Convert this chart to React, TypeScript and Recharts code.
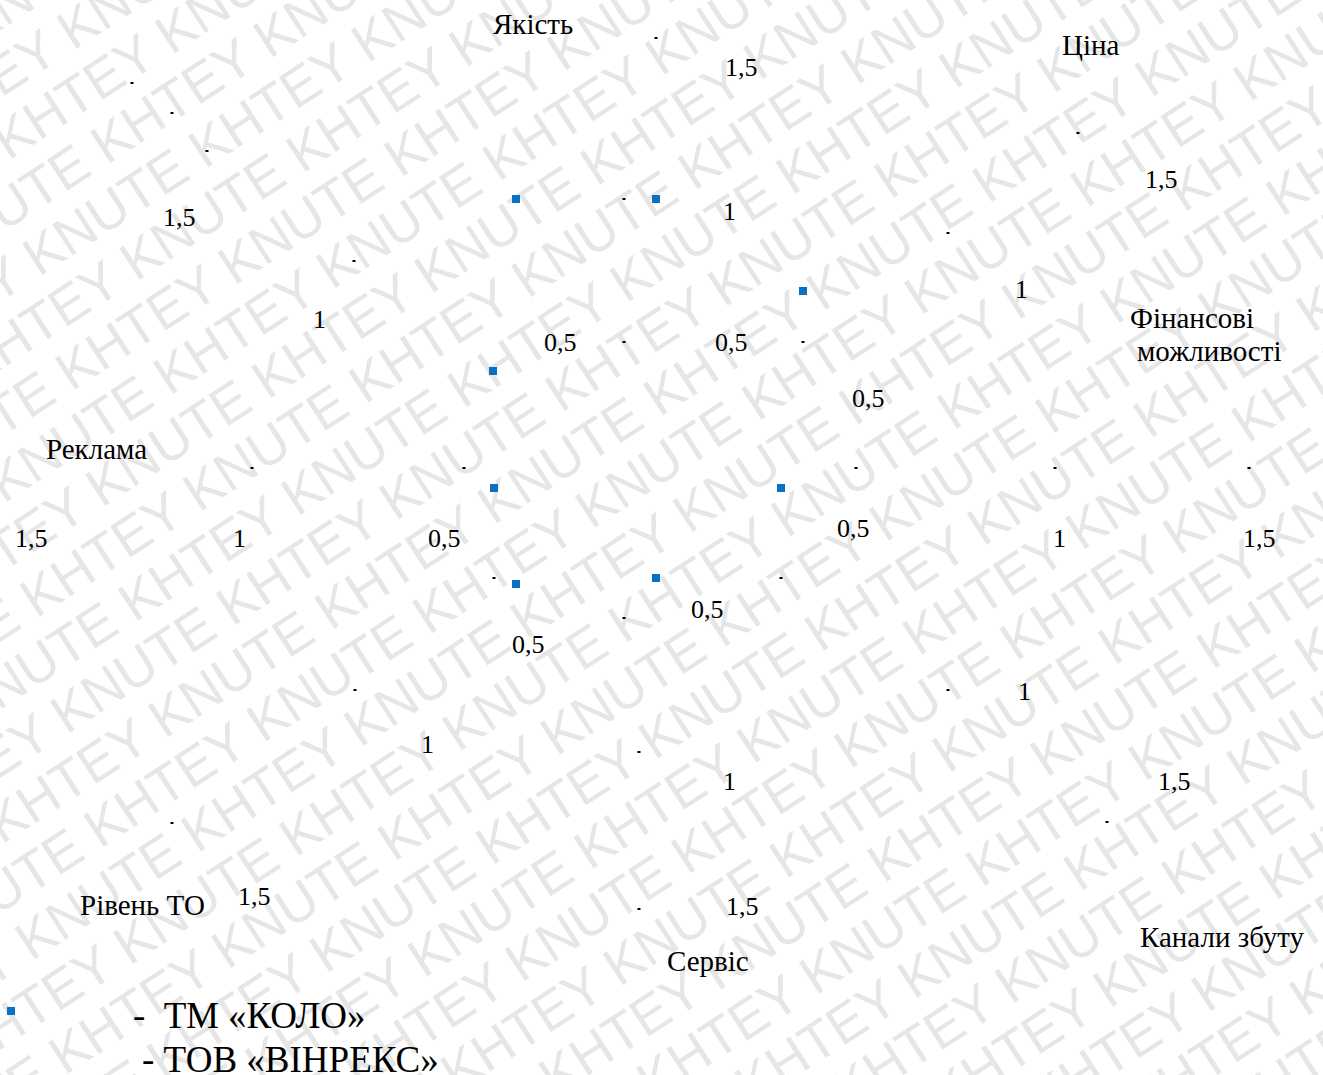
import { ScatterChart, Scatter, XAxis, YAxis } from "recharts";

const W = 1323;
const H = 1075;

/* ---- axis captions (page coordinates: left edge, baseline) ---- */
const captionNames = ["Якість", "Ціна", "Фінансові", "можливості", "Реклама", "Сервіс", "Канали збуту", "Рівень ТО"];
const captionX = [493, 1062, 1130, 1137, 46, 667, 1140, 80];
const captionY = [34, 55, 328, 361, 459, 971, 947, 915];

/* ---- scale tick labels ---- */
const tickLabels = [
  "1,5", "1", "0,5", "0,5", "1", "1,5", "1,5", "1", "0,5", "1,5", "1",
  "0,5", "0,5", "1", "1,5", "0,5", "0,5", "1", "1", "1", "1,5", "1,5", "1,5",
];
const tickX = [
  725, 723, 715, 544, 313, 163, 1145, 1015, 852, 15, 233,
  428, 837, 1053, 1243, 691, 512, 1018, 421, 723, 1158, 726, 238,
];
const tickY = [
  76, 220, 351, 351, 328, 226, 188, 298, 407, 547, 547,
  547, 537, 547, 547, 618, 653, 700, 753, 790, 790, 915, 905,
];

/* ---- ТМ «КОЛО» profile points ---- */
const koloX = [516, 656, 803, 781, 656, 516, 494, 493];
const koloY = [199, 199, 291, 488, 578, 584, 488, 371];

/* ---- grid remnants (small dots) ---- */
const dotX = [132, 172, 207, 354, 656, 624, 624, 803, 1078, 948, 252, 464, 856, 1055, 1249, 494, 624, 781, 355, 948, 639, 172, 1107, 639];
const dotY = [83, 113, 151, 261, 38, 199, 342, 342, 133, 233, 468, 468, 468, 468, 468, 578, 618, 578, 690, 690, 752, 823, 822, 909];

/* ---- legend ---- */
const legendLabels = ["-\u00a0 ТМ «КОЛО»", "- ТОВ «ВІНРЕКС»"];
const legendX = [133, 142];
const legendY = [1028, 1072];
const legendMarkX = [11];
const legendMarkY = [1011];

const zipLabels = (labels: string[], xs: number[], ys: number[]) =>
  labels.map((label, i) => ({ label, x: xs[i], y: ys[i] }));
const zipPoints = (xs: number[], ys: number[]) => xs.map((x, i) => ({ x, y: ys[i] }));

const captions = zipLabels(captionNames, captionX, captionY);
const ticks = zipLabels(tickLabels, tickX, tickY);
const kolo = zipPoints(koloX, koloY);
const dots = zipPoints(dotX, dotY);
const legend = zipLabels(legendLabels, legendX, legendY);
const legendMarks = zipPoints(legendMarkX, legendMarkY);

const SERIF = "Liberation Serif, Times New Roman, serif";
const BLUE = "#0a70c2";

const textShape = (size: number) => (p: any) => (
  <text x={p.cx} y={p.cy} fontSize={size} fontFamily={SERIF} fill="#000">
    {p.payload.label}
  </text>
);
const squareShape = (p: any) => <rect x={p.cx - 4} y={p.cy - 4} width={8} height={8} fill={BLUE} />;
const dotShape = (p: any) => <rect x={p.cx - 1.5} y={p.cy - 1} width={3} height={2} fill="#000" />;

/* ---- background watermark ---- */
const WM_ANGLE = 33;
const WM_ROW = 57;
const WM_SHIFT = 80;
const WM_U0 = -78.7;
const WM_V0 = 139.6;
const WM_PERIOD = 393;

function Watermark() {
  const rows = [];
  for (let k = -4; k <= 28; k++) {
    let u = WM_U0 + WM_SHIFT * k;
    while (u > -700) u -= WM_PERIOD;
    rows.push(
      <text key={k} x={u} y={WM_V0 + WM_ROW * k} style={{ whiteSpace: "pre" }}>
        {"KHTEY KNUTE ".repeat(7)}
      </text>
    );
  }
  return (
    <svg width={W} height={H} style={{ position: "absolute", left: 0, top: 0 }}>
      <g transform={`rotate(-${WM_ANGLE})`} fill="#e6e6e6" fontSize={54}
         fontFamily="Liberation Sans, Arial, sans-serif">
        {rows}
      </g>
    </svg>
  );
}

export default function App() {
  return (
    <div style={{ position: "absolute", left: 0, top: 0, width: W, height: H, background: "#fff", overflow: "hidden" }}>
      <Watermark />
      <div style={{ position: "absolute", left: 0, top: 0 }}>
        <ScatterChart width={W} height={H} margin={{ top: 0, right: 0, bottom: 0, left: 0 }}>
          <XAxis type="number" dataKey="x" domain={[0, W]} hide allowDataOverflow />
          <YAxis type="number" dataKey="y" domain={[0, H]} reversed hide allowDataOverflow />
          <Scatter data={dots} shape={dotShape} isAnimationActive={false} />
          <Scatter data={kolo} shape={squareShape} isAnimationActive={false} />
          <Scatter data={legendMarks} shape={squareShape} isAnimationActive={false} />
          <Scatter data={captions} shape={textShape(29)} isAnimationActive={false} />
          <Scatter data={ticks} shape={textShape(26)} isAnimationActive={false} />
          <Scatter data={legend} shape={textShape(37)} isAnimationActive={false} />
        </ScatterChart>
      </div>
    </div>
  );
}
